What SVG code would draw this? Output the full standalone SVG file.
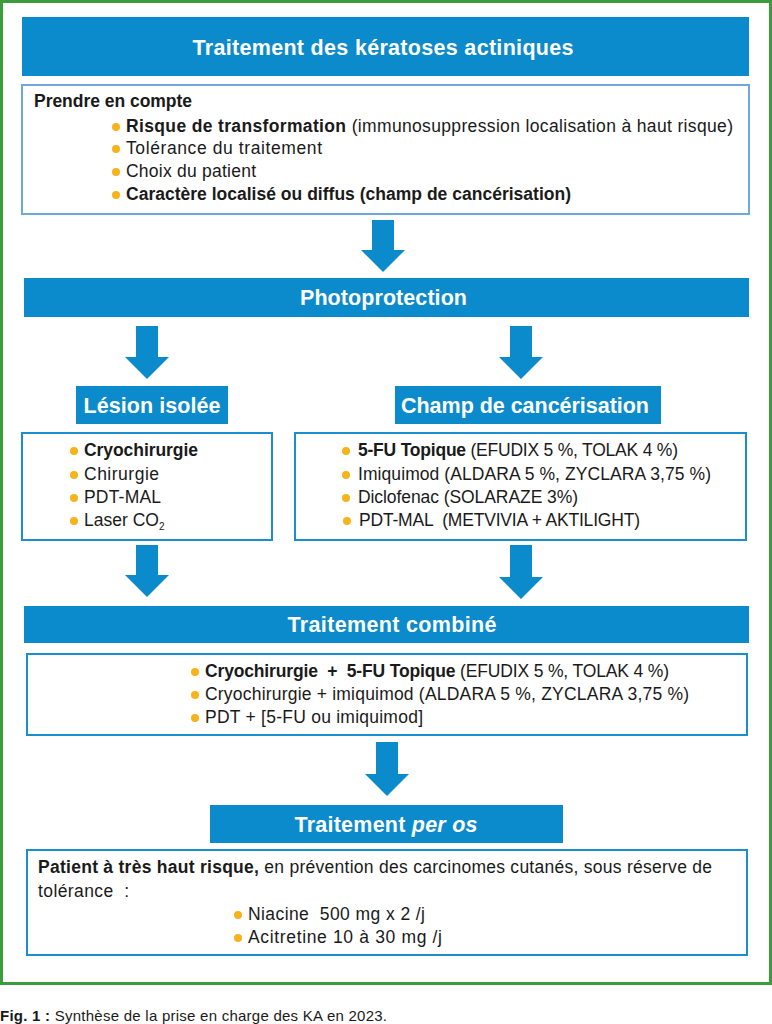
<svg xmlns="http://www.w3.org/2000/svg" width="772" height="1024" viewBox="0 0 772 1024">
<style>
text{font-family:"Liberation Sans",Arial,sans-serif;fill:#1a1a1a}
.bar{fill:#0b8bcb}
.hd{fill:#fff;font-weight:bold;font-size:21.5px}
.box{fill:#fff;stroke:#1b8ed0;stroke-width:2}
.box1{fill:#fff;stroke:#6fa8dc;stroke-width:2}
.t{font-size:17.5px}
.b{font-weight:bold}
.dot{fill:#f6b31b}
.arr{fill:#0b8bcb}
</style>
<rect x="1.5" y="1.5" width="769" height="982" fill="#fff" stroke="#3c9c3c" stroke-width="3"/>

<g id="connectors">
<polygon class="arr" points="372,220 394,220 394,250 405,250 383,272 361,250 372,250"/>
<polygon class="arr" points="136,326 158,326 158,357 169,357 147,379 125,357 136,357"/>
<polygon class="arr" points="510,326 532,326 532,357 543,357 521,379 499,357 510,357"/>
<polygon class="arr" points="136,545 158,545 158,575 169,575 147,597 125,575 136,575"/>
<polygon class="arr" points="510,545 532,545 532,577 543,577 521,599 499,577 510,577"/>
<polygon class="arr" points="376,742 398,742 398,774 409,774 387,796 365,774 376,774"/>
</g>

<g id="title">
<rect class="bar" x="22" y="17" width="727" height="59"/>
<text class="hd" x="383" y="55" text-anchor="middle" textLength="381">Traitement des kératoses actiniques</text>
</g>

<g id="prendre">
<rect class="box1" x="22" y="85" width="727" height="129"/>
<text class="t b" x="34" y="107" textLength="158">Prendre en compte</text>
<circle class="dot" cx="116" cy="127" r="4"/>
<text class="t" x="126" y="132" textLength="607"><tspan class="b">Risque de transformation</tspan> (immunosuppression localisation à haut risque)</text>
<circle class="dot" cx="116" cy="149" r="4"/>
<text class="t" x="126" y="154" textLength="196">Tolérance du traitement</text>
<circle class="dot" cx="116" cy="172" r="4"/>
<text class="t" x="126" y="177" textLength="130">Choix du patient</text>
<circle class="dot" cx="116" cy="195" r="4"/>
<text class="t b" x="126" y="200" textLength="445">Caractère localisé ou diffus (champ de cancérisation)</text>
</g>

<g id="photoprotection">
<rect class="bar" x="24" y="278" width="725" height="39"/>
<text class="hd" x="300" y="305" textLength="167">Photoprotection</text>
</g>

<g id="lesion">
<rect class="bar" x="76" y="386" width="152" height="38"/>
<text class="hd" x="152" y="413" text-anchor="middle" textLength="137">Lésion isolée</text>
</g>

<g id="champ">
<rect class="bar" x="395" y="386" width="266" height="38"/>
<text class="hd" x="525" y="413" text-anchor="middle" textLength="248">Champ de cancérisation</text>
</g>

<g id="lesion-list">
<rect class="box" x="22" y="433" width="250" height="107"/>
<circle class="dot" cx="74" cy="451" r="4"/>
<text class="t b" x="84" y="456" textLength="114">Cryochirurgie</text>
<circle class="dot" cx="74" cy="475" r="4"/>
<text class="t" x="84" y="480" textLength="75">Chirurgie</text>
<circle class="dot" cx="74" cy="498" r="4"/>
<text class="t" x="84" y="503" textLength="77">PDT-MAL</text>
<circle class="dot" cx="74" cy="521" r="4"/>
<text class="t" x="84" y="526">Laser CO<tspan font-size="10" dy="4">2</tspan></text>
</g>

<g id="champ-list">
<rect class="box" x="295" y="433" width="451" height="107"/>
<circle class="dot" cx="346" cy="451" r="4"/>
<text class="t" x="358" y="456" textLength="320"><tspan class="b">5-FU Topique</tspan> (EFUDIX 5 %, TOLAK 4 %)</text>
<circle class="dot" cx="346" cy="475" r="4"/>
<text class="t" x="358" y="480" textLength="353">Imiquimod (ALDARA 5 %, ZYCLARA 3,75 %)</text>
<circle class="dot" cx="346" cy="498" r="4"/>
<text class="t" x="358" y="503" textLength="220">Diclofenac (SOLARAZE 3%)</text>
<circle class="dot" cx="347" cy="521" r="4"/>
<text class="t" x="359" y="526" textLength="281" xml:space="preserve">PDT-MAL  (METVIVIA + AKTILIGHT)</text>
</g>

<g id="combine">
<rect class="bar" x="24" y="606" width="725" height="37"/>
<text class="hd" x="392" y="632" text-anchor="middle" textLength="209">Traitement combiné</text>
</g>

<g id="combine-list">
<rect class="box" x="27" y="654" width="720" height="81"/>
<circle class="dot" cx="195" cy="672" r="4"/>
<text class="t" x="205" y="677" textLength="464" xml:space="preserve"><tspan class="b">Cryochirurgie  +  5-FU Topique</tspan> (EFUDIX 5 %, TOLAK 4 %)</text>
<circle class="dot" cx="195" cy="695" r="4"/>
<text class="t" x="205" y="700" textLength="484">Cryochirurgie + imiquimod (ALDARA 5 %, ZYCLARA 3,75 %)</text>
<circle class="dot" cx="195" cy="718" r="4"/>
<text class="t" x="205" y="723" textLength="218">PDT + [5-FU ou imiquimod]</text>
</g>

<g id="peros">
<rect class="bar" x="210" y="805" width="353" height="38"/>
<text class="hd" x="386" y="832" text-anchor="middle" textLength="183">Traitement <tspan font-style="italic">per os</tspan></text>
</g>

<g id="peros-list">
<rect class="box" x="27" y="850" width="720" height="105"/>
<text class="t" x="38" y="873" textLength="674"><tspan class="b">Patient à très haut risque,</tspan> en prévention des carcinomes cutanés, sous réserve de</text>
<text class="t" x="38" y="897" textLength="91" xml:space="preserve">tolérance  :</text>
<circle class="dot" cx="238" cy="915" r="4"/>
<text class="t" x="248" y="920" textLength="177" xml:space="preserve">Niacine  500 mg x 2 /j</text>
<circle class="dot" cx="238" cy="938" r="4"/>
<text class="t" x="248" y="943" textLength="194">Acitretine 10 à 30 mg /j</text>
</g>

<text x="0" y="1021" style="font-size:15px" textLength="387"><tspan class="b">Fig. 1 :</tspan> Synthèse de la prise en charge des KA en 2023.</text>
</svg>
